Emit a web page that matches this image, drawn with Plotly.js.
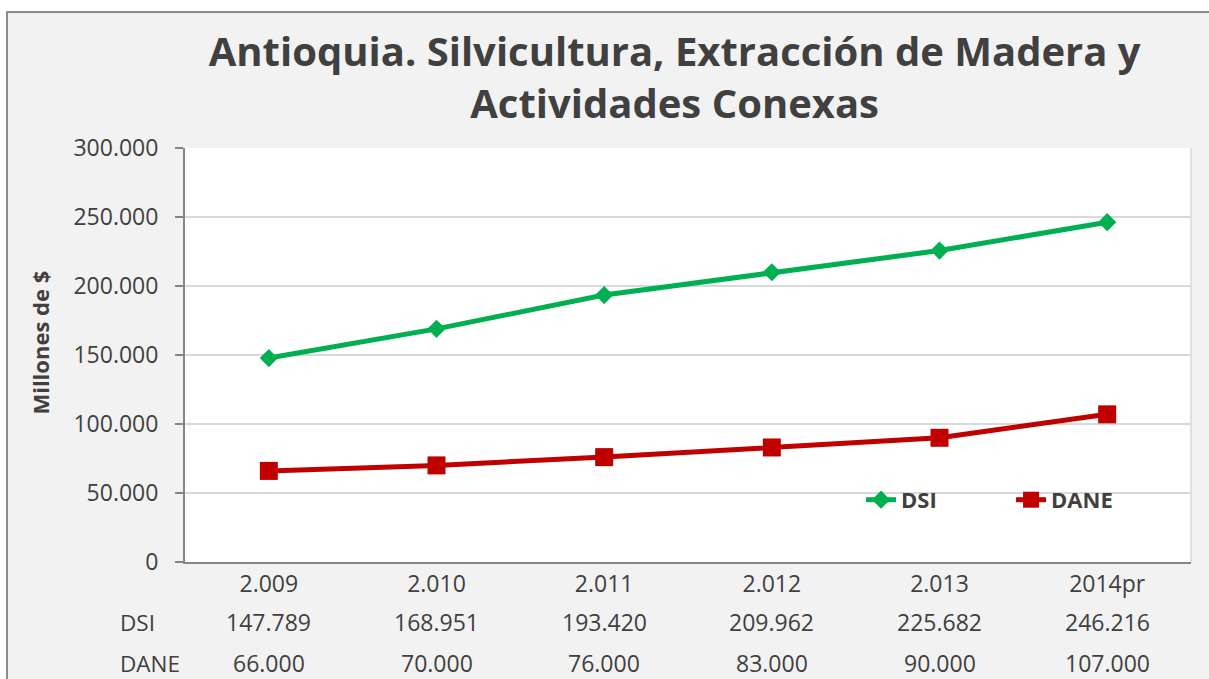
<!DOCTYPE html>
<html><head><meta charset="utf-8">
<script src="https://cdn.plot.ly/plotly-3.0.1.min.js"></script>
<style>
html,body{margin:0;padding:0;width:1209px;height:679px;overflow:hidden;background:#fff;}
#frame{position:absolute;left:6px;top:11px;width:1230px;height:700px;background:#f2f2f2;border:2px solid #8c8c8c;}
#chart{position:absolute;left:0;top:0;width:1209px;height:679px;}
</style></head>
<body>
<div id="frame"></div>
<div id="chart"></div>
<script>
const categories = ["2.009", "2.010", "2.011", "2.012", "2.013", "2014pr"];
const dsi = [147789, 168951, 193420, 209962, 225682, 246216];
const dane = [66000, 70000, 76000, 83000, 90000, 107000];
const seriesNames = ["DSI", "DANE"];
const titleText = "Antioquia. Silvicultura, Extracción de Madera y<br>Actividades Conexas";
const yTitle = "Millones de $";

const FONT = "Open Sans, sans-serif";
const TXT = "#404040";

function fmt(n){
  return String(n).replace(/\B(?=(\d{3})+(?!\d))/g, ".");
}

const traces = [
  {x: categories, y: dsi, name: seriesNames[0], type: "scatter", mode: "lines+markers",
   line: {color: "#00b050", width: 5}, marker: {symbol: "diamond", size: 14, color: "#00b050"}},
  {x: categories, y: dane, name: seriesNames[1], type: "scatter", mode: "lines+markers",
   line: {color: "#c00000", width: 5}, marker: {symbol: "square", size: 18, color: "#c00000"}}
];

const annotations = [];
const rows = [dsi, dane];
const rowShift = [-60, -101];
rows.forEach((vals, r) => {
  annotations.push({xref: "paper", yref: "paper", x: 0, y: 0, xshift: -67, yshift: rowShift[r],
    xanchor: "left", yanchor: "middle", showarrow: false, text: seriesNames[r],
    font: {family: FONT, size: 22.5, color: TXT}});
  vals.forEach((v, i) => {
    annotations.push({xref: "x", yref: "paper", x: i, y: 0, yshift: rowShift[r],
      xanchor: "center", yanchor: "middle", showarrow: false, text: fmt(v),
      font: {family: FONT, size: 23, color: TXT}});
  });
});
// y-axis title (placed slightly above plot centre, as in the reference)
annotations.push({xref: "paper", yref: "paper", x: 0, y: 0.53, xshift: -145, xanchor: "center",
  yanchor: "middle", textangle: -90, showarrow: false, text: "<b>" + yTitle + "</b>",
  font: {family: FONT, size: 22, color: TXT}});

const layout = {
  width: 1209, height: 679,
  paper_bgcolor: "rgba(0,0,0,0)", plot_bgcolor: "#ffffff",
  separators: ",.",
  margin: {l: 185, r: 18, t: 148, b: 117},
  title: {text: titleText, font: {family: FONT, size: 40, color: TXT, weight: "bold"},
          x: 0.558, xanchor: "center", y: 0.903, yanchor: "top"},
  font: {family: FONT, color: TXT},
  xaxis: {type: "category", range: [-0.5, 5.5], showgrid: false, showline: true,
          linecolor: "#868686", linewidth: 2, ticks: "", tickfont: {family: FONT, size: 23, color: TXT},
          zeroline: false, fixedrange: true},
  yaxis: {range: [0, 300000], dtick: 50000, tickformat: ",d", showgrid: true, gridcolor: "#d9d9d9",
          gridwidth: 1.5, showline: true, linecolor: "#868686", linewidth: 2, ticks: "outside",
          ticklen: 8, tickcolor: "#868686", tickwidth: 2, zeroline: false, ticklabelstandoff: 12,
          tickfont: {family: FONT, size: 23, color: TXT}},
  legend: {orientation: "h", x: 0.672, y: 0.15, xanchor: "left", yanchor: "middle", entrywidth: 105,
           bgcolor: "rgba(0,0,0,0)", font: {family: FONT, size: 22, color: TXT, weight: "bold"}},
  shapes: [{type: "line", xref: "paper", yref: "paper", x0: 1, x1: 1, y0: 0, y1: 1,
            line: {color: "#d9d9d9", width: 1.5}}],
  annotations: annotations,
  showlegend: true
};

Plotly.newPlot("chart", traces, layout, {displayModeBar: false, staticPlot: true});
</script>
</body></html>
